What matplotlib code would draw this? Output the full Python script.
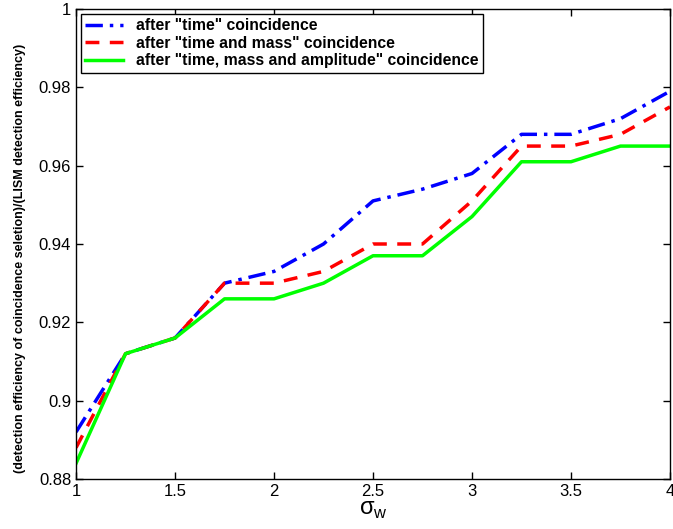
import numpy as np
import matplotlib
matplotlib.use("Agg")
import matplotlib.pyplot as plt

# === Data ===
sigma_w = [1, 1.25, 1.5, 1.75, 2, 2.25, 2.5, 2.75, 3, 3.25, 3.5, 3.75, 4]
eff_time = [0.892, 0.912, 0.916, 0.930, 0.933, 0.940, 0.951, 0.954, 0.958, 0.968, 0.968, 0.972, 0.979]
eff_time_mass = [0.888, 0.912, 0.916, 0.930, 0.930, 0.933, 0.940, 0.940, 0.951, 0.965, 0.965, 0.968, 0.975]
eff_time_mass_amp = [0.884, 0.912, 0.916, 0.926, 0.926, 0.930, 0.937, 0.937, 0.947, 0.961, 0.961, 0.965, 0.965]

plt.rcParams['font.family'] = ['Liberation Sans', 'DejaVu Sans']
plt.rcParams['mathtext.fontset'] = 'custom'
plt.rcParams['mathtext.rm'] = 'Liberation Sans'

fig = plt.figure(figsize=(6.73, 5.29), dpi=100)
ax = fig.add_axes([0.113, 0.0945, 0.8825, 0.8885])

ax.plot(sigma_w, eff_time, color="#0000ff", linestyle=(0, (5, 2, 1, 2)), lw=2.5,
        label='after "time" coincidence')
ax.plot(sigma_w, eff_time_mass, color="#ff0000", linestyle=(0, (4, 3)), lw=2.5,
        label='after "time and mass" coincidence')
ax.plot(sigma_w, eff_time_mass_amp, color="#00ff00", linestyle="-", lw=2.5,
        label='after "time, mass and amplitude" coincidence')

ax.set_xlim(1, 4)
ax.set_ylim(0.88, 1.0)
ax.set_xticks([1, 1.5, 2, 2.5, 3, 3.5, 4])
ax.set_xticklabels(["1", "1.5", "2", "2.5", "3", "3.5", "4"])
ax.set_yticks([0.88, 0.9, 0.92, 0.94, 0.96, 0.98, 1.0])
ax.set_yticklabels(["0.88", "0.9", "0.92", "0.94", "0.96", "0.98", "1"])
ax.tick_params(direction="in", top=True, right=True, labelsize=12, length=5, width=1)
for s in ax.spines.values():
    s.set_linewidth(1)

ax.set_xlabel("σ$_\\mathrm{w}$", fontsize=17, labelpad=0)
ax.set_ylabel("(detection efficiency of coincidence seletion)/(LISM detection efficiency)",
              fontsize=9.0, fontweight="bold")
ax.yaxis.set_label_coords(-0.085, 0.47)

leg = ax.legend(loc="upper left", prop={"weight": "bold", "size": 11.3}, fancybox=False,
                edgecolor="black", framealpha=1, handlelength=2.4, borderpad=0.3,
                labelspacing=0.15, borderaxespad=0.3)
leg.get_frame().set_linewidth(1)

fig.savefig("out.png", dpi=100)
